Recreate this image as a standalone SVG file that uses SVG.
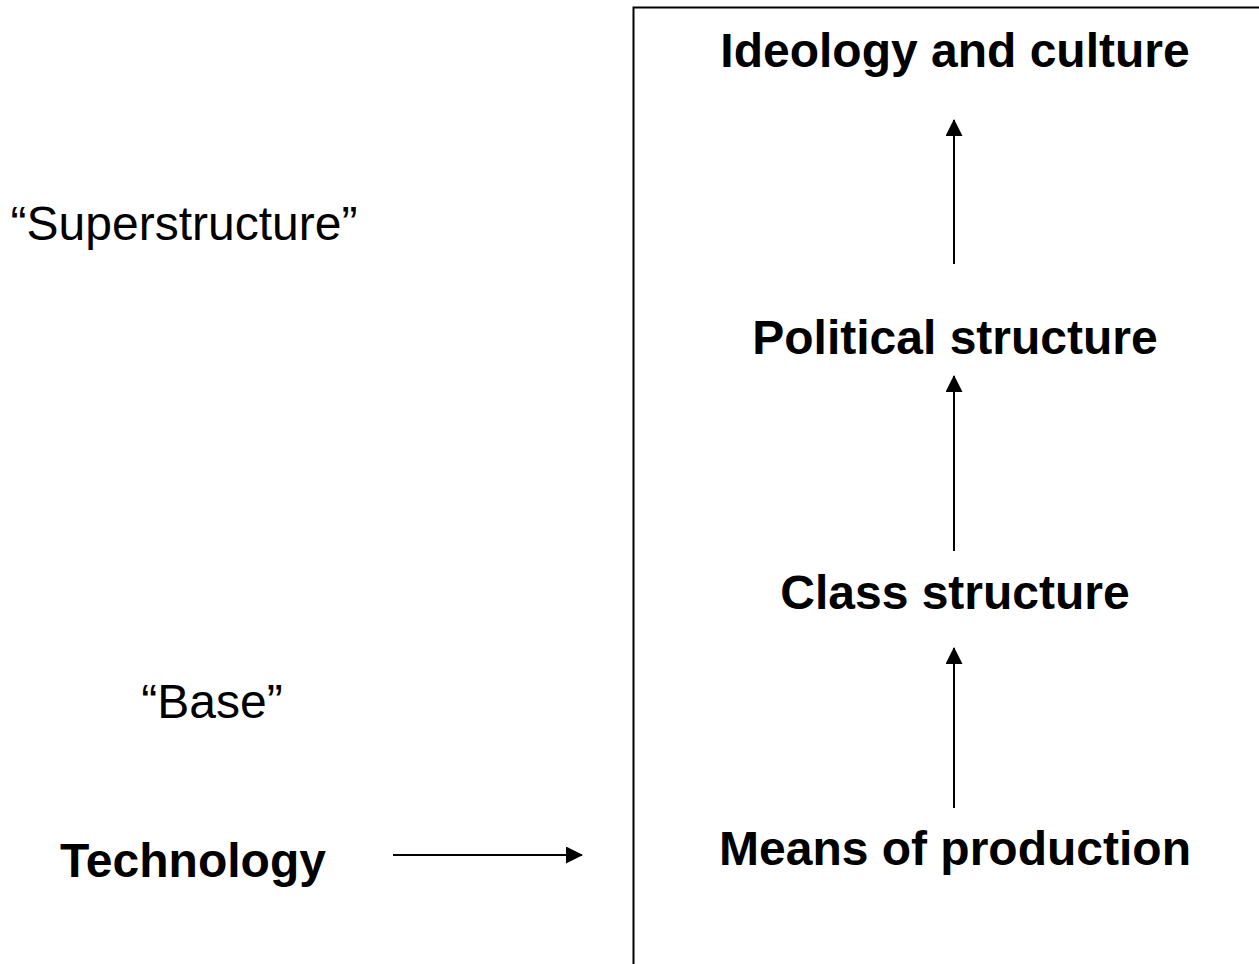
<svg xmlns="http://www.w3.org/2000/svg" width="1259" height="964" viewBox="0 0 1259 964">
<style>
.b{font-family:"Liberation Sans",Arial,sans-serif;font-size:48px;font-weight:bold;fill:#000;text-anchor:middle}
.r{font-family:"Liberation Sans",Arial,sans-serif;font-size:48px;fill:#000;text-anchor:middle}
.c{stroke:#000;stroke-width:2;fill:none}
</style>
<defs>
<marker id="ah" markerUnits="userSpaceOnUse" markerWidth="17" markerHeight="17" viewBox="0 0 17 17" refX="16" refY="8.5" orient="auto">
<path d="M0,0 L17,8.5 L0,17 Z" fill="#000"/>
</marker>
</defs>
<rect x="633.5" y="7.5" width="700" height="1000" fill="none" stroke="#000" stroke-width="2"/>
<g id="connectors">
<line class="c" x1="954" y1="264" x2="954" y2="120" marker-end="url(#ah)"/>
<line class="c" x1="954" y1="551" x2="954" y2="376" marker-end="url(#ah)"/>
<line class="c" x1="954" y1="808" x2="954" y2="648" marker-end="url(#ah)"/>
<line class="c" x1="393" y1="855" x2="582" y2="855" marker-end="url(#ah)"/>
</g>
<g id="ideology"><text class="b" x="955" y="67">Ideology and culture</text></g>
<g id="political"><text class="b" x="955" y="354">Political structure</text></g>
<g id="class"><text class="b" x="955" y="609">Class structure</text></g>
<g id="means"><text class="b" x="955" y="865">Means of production</text></g>
<g id="technology"><text class="b" x="193" y="877">Technology</text></g>
<g id="superstructure"><text class="r" x="184" y="240">“Superstructure”</text></g>
<g id="base"><text class="r" x="212" y="718">“Base”</text></g>
</svg>
